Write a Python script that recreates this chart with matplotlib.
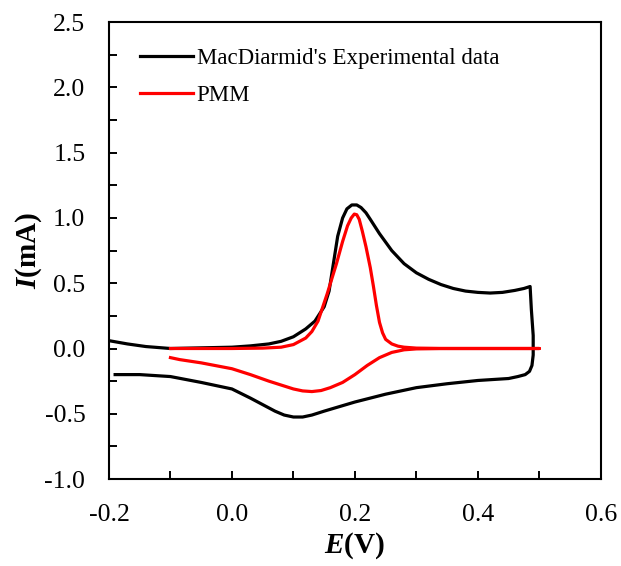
import numpy as np
import matplotlib.pyplot as plt

plt.rcParams['font.family'] = ['Liberation Serif', 'DejaVu Serif']
plt.rcParams['mathtext.fontset'] = 'custom'
plt.rcParams['mathtext.bfit'] = 'Liberation Serif:italic:bold'

# MacDiarmid's experimental CV (forward then reverse sweep)
exp_e = [-0.2, -0.17, -0.14, -0.1, -0.05, 0.0, 0.03, 0.06, 0.08, 0.1, 0.12, 0.135,
         0.15, 0.158, 0.165, 0.172, 0.18, 0.187, 0.195, 0.203, 0.21, 0.218, 0.225,
         0.24, 0.26, 0.28, 0.3, 0.32, 0.34, 0.36, 0.38, 0.4, 0.42, 0.44, 0.46,
         0.475, 0.485, 0.487, 0.49, 0.49, 0.488, 0.484, 0.477, 0.465, 0.45, 0.4,
         0.35, 0.3, 0.25, 0.2, 0.15, 0.13, 0.115, 0.1, 0.085, 0.07, 0.05, 0.03,
         0.0, -0.05, -0.1, -0.15, -0.19]
exp_i = [0.06, 0.035, 0.015, 0.0, 0.005, 0.01, 0.02, 0.035, 0.055, 0.09, 0.15, 0.21,
         0.32, 0.44, 0.65, 0.86, 1.0, 1.07, 1.1, 1.1, 1.08, 1.04, 0.99,
         0.88, 0.75, 0.65, 0.58, 0.53, 0.49, 0.46, 0.44, 0.43, 0.425, 0.43, 0.445,
         0.46, 0.475, 0.3, 0.1, -0.05, -0.13, -0.175, -0.2, -0.215, -0.23, -0.245,
         -0.27, -0.3, -0.35, -0.41, -0.48, -0.51, -0.525, -0.525, -0.51, -0.48, -0.43, -0.38,
         -0.31, -0.26, -0.215, -0.2, -0.2]

# PMM simulation
pmm_e = [-0.1, -0.05, 0.0, 0.05, 0.08, 0.1, 0.12, 0.13, 0.14, 0.155, 0.17, 0.18,
         0.188, 0.194, 0.199, 0.203, 0.207, 0.212, 0.218, 0.225, 0.23, 0.235, 0.24,
         0.245, 0.25, 0.26, 0.27, 0.28, 0.3, 0.35, 0.4, 0.45, 0.5, 0.45, 0.4, 0.35,
         0.3, 0.28, 0.26, 0.24, 0.22, 0.2, 0.18, 0.16, 0.145, 0.13, 0.115, 0.1, 0.08,
         0.06, 0.03, 0.0, -0.05, -0.085, -0.1]
pmm_i = [0.0, 0.0, 0.0, 0.003, 0.01, 0.03, 0.08, 0.13, 0.21, 0.42, 0.65, 0.82,
         0.94, 1.0, 1.03, 1.025, 0.99, 0.9, 0.78, 0.62, 0.48, 0.33, 0.2,
         0.12, 0.07, 0.035, 0.018, 0.01, 0.003, 0.0, 0.0, 0.0, 0.0, 0.0, 0.0, 0.0,
         -0.003, -0.01, -0.03, -0.07, -0.13, -0.2, -0.26, -0.3, -0.322, -0.33, -0.325, -0.31, -0.28,
         -0.25, -0.2, -0.155, -0.11, -0.085, -0.07]

fig = plt.figure(figsize=(6.21, 5.66), dpi=100)
ax = fig.add_axes([0.1755, 0.1537, 0.792, 0.807])

ax.plot(exp_e, exp_i, color='black', lw=2.3, label="MacDiarmid's Experimental data")
ax.plot(pmm_e, pmm_i, color='red', lw=2.3, label='PMM')

ax.set_xlim(-0.2, 0.6)
ax.set_ylim(-1.0, 2.5)
ax.set_xticks(np.arange(-0.2, 0.61, 0.2))
ax.set_xticks(np.arange(-0.2, 0.61, 0.1), minor=True)
ax.set_yticks(np.arange(-1.0, 2.51, 0.5))
ax.set_yticks(np.arange(-1.0, 2.51, 0.25), minor=True)
ax.set_xticklabels(['-0.2', '0.0', '0.2', '0.4', '0.6'])
ax.set_yticklabels(['-1.0', '-0.5', '0.0', '0.5', '1.0', '1.5', '2.0', '2.5'])
ax.tick_params(which='both', direction='in', length=6, width=1.4, labelsize=18.5,
               top=False, right=False)
ax.tick_params(axis='x', which='both', pad=18)
ax.tick_params(axis='y', which='both', pad=17)
for s in ax.spines.values():
    s.set_linewidth(1.5)

ax.set_xlabel(r'$\mathbfit{E}$(V)', fontsize=21, fontweight='bold', labelpad=3)
ax.set_ylabel(r'$\mathbfit{I}$(mA)', fontsize=21, fontweight='bold', labelpad=0)

ax.legend(loc='upper left', bbox_to_anchor=(0.063, 0.944), frameon=False,
          fontsize=16.5, handlelength=2.3, handletextpad=0.17, labelspacing=0.7,
          borderaxespad=0, borderpad=0)

fig.savefig('out.png', dpi=100)
